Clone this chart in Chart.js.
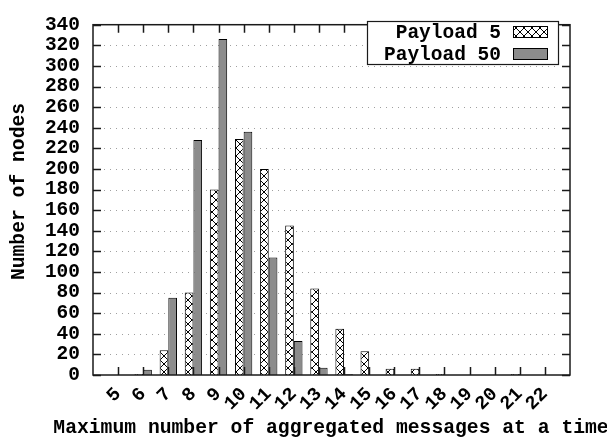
<!DOCTYPE html>
<html>
<head>
<meta charset="utf-8">
<script src="https://cdn.jsdelivr.net/npm/chart.js@4/dist/chart.umd.min.js"></script>
<style>
  html, body { margin: 0; padding: 0; background: #ffffff; }
  #wrap { width: 607px; height: 439px; position: relative; }
</style>
</head>
<body>
<div id="wrap"><canvas id="c" width="607" height="439"></canvas></div>
<script>
// ---- data ----
const categories = [5, 6, 7, 8, 9, 10, 11, 12, 13, 14, 15, 16, 17, 18, 19, 20, 21, 22];
const payload5  = [0, 1, 24, 80, 180, 229, 200, 145, 84, 45, 23, 6, 6, 1, 0, 0, 1, 0];
const payload50 = [0, 5, 75, 228, 326, 236, 114, 33, 7, 1, 0, 0, 0, 0, 0, 0, 0, 0];
const seriesNames = ['Payload 5', 'Payload 50'];
const yTicks = [0, 20, 40, 60, 80, 100, 120, 140, 160, 180, 200, 220, 240, 260, 280, 300, 320, 340];
const xTitle = 'Maximum number of aggregated messages at a time';
const yTitle = 'Number of nodes';

// x range runs one step beyond the first and last category (4 .. 23)
const labels = [String(categories[0] - 1), ...categories.map(String), String(categories[categories.length - 1] + 1)];
const pad = arr => [null, ...arr, null];

const FONT = '"Liberation Mono", "Courier New", monospace';
const TITLE_CSS = 'bold 19.7px ' + FONT;
const LEGEND_CSS = 'bold 19.5px ' + FONT;
const GRAY = '#8c8c8c';

function hatch() {
  const c = document.createElement('canvas');
  c.width = 8; c.height = 8;
  const g = c.getContext('2d');
  g.fillStyle = '#ffffff';
  g.fillRect(0, 0, 8, 8);
  g.strokeStyle = '#000000';
  g.lineWidth = 1;
  g.beginPath();
  g.moveTo(0, 0); g.lineTo(8, 8);
  g.moveTo(8, 0); g.lineTo(0, 8);
  g.stroke();
  return g.createPattern(c, 'repeat');
}
const hatchPattern = hatch();

const framePlugin = {
  id: 'frame',
  beforeDatasetsDraw(chart) {
    const ctx = chart.ctx, a = chart.chartArea, y = chart.scales.y;
    ctx.save();
    ctx.strokeStyle = '#a0a0a0';
    ctx.lineWidth = 1;
    ctx.setLineDash([1, 5]);
    yTicks.forEach(v => {
      if (v === yTicks[0] || v === yTicks[yTicks.length - 1]) return;
      const py = Math.round(y.getPixelForValue(v)) + 0.5;
      ctx.beginPath();
      ctx.moveTo(a.left + 11, py);
      ctx.lineTo(a.right - 10, py);
      ctx.stroke();
    });
    ctx.restore();
  },
  afterDatasetsDraw(chart) {
    const ctx = chart.ctx, a = chart.chartArea, x = chart.scales.x, y = chart.scales.y;
    ctx.save();
    ctx.strokeStyle = '#1a1a1a';
    ctx.lineWidth = 1.5;
    ctx.setLineDash([]);
    const T = 8;
    ctx.beginPath();
    yTicks.forEach(v => {
      const py = Math.round(y.getPixelForValue(v)) + 0.5;
      ctx.moveTo(a.left, py); ctx.lineTo(a.left + T, py);
      ctx.moveTo(a.right, py); ctx.lineTo(a.right - T, py);
    });
    categories.forEach(c => {
      const px = Math.round(x.getPixelForValue(labels.indexOf(String(c)))) + 0.5;
      ctx.moveTo(px, a.bottom); ctx.lineTo(px, a.bottom - T);
      ctx.moveTo(px, a.top); ctx.lineTo(px, a.top + T);
    });
    ctx.stroke();
    ctx.strokeRect(a.left, a.top, a.right - a.left, a.bottom - a.top);

    // axis titles (drawn here so they are not squeezed to the axis width)
    ctx.fillStyle = '#000000';
    ctx.font = TITLE_CSS;
    ctx.textAlign = 'center';
    ctx.textBaseline = 'middle';
    ctx.fillText(xTitle, 331, 428);
    ctx.save();
    ctx.translate(19, 191.5);
    ctx.rotate(-Math.PI / 2);
    ctx.fillText(yTitle, 0, 0);
    ctx.restore();

    // legend (box at top right, text right-aligned, swatch on the right)
    const lx0 = 367, ly0 = 21, lx1 = 558, ly1 = 64;
    ctx.fillStyle = '#ffffff';
    ctx.fillRect(lx0, ly0, lx1 - lx0, ly1 - ly0);
    ctx.lineWidth = 1.2;
    ctx.strokeStyle = '#1a1a1a';
    ctx.strokeRect(lx0 + 0.5, ly0 + 0.5, lx1 - lx0, ly1 - ly0);
    ctx.font = LEGEND_CSS;
    ctx.textAlign = 'right';
    ctx.textBaseline = 'middle';
    chart.data.datasets.forEach((ds, i) => {
      const cy = 32 + i * 22;
      ctx.fillStyle = '#000000';
      ctx.fillText(ds.label, 501, cy + 1);
      ctx.fillStyle = ds.backgroundColor;
      ctx.fillRect(513, cy - 5.5, 34, 11);
      ctx.lineWidth = 1;
      ctx.strokeStyle = '#000000';
      ctx.strokeRect(513.5, cy - 5.5, 34, 11);
    });
    ctx.restore();
  }
};

new Chart(document.getElementById('c'), {
  type: 'bar',
  data: {
    labels: labels,
    datasets: [
      { label: seriesNames[0], data: pad(payload5), backgroundColor: hatchPattern, borderColor: '#000000', borderWidth: 1, borderSkipped: 'start' },
      { label: seriesNames[1], data: pad(payload50), backgroundColor: GRAY, borderColor: '#000000', borderWidth: 1, borderSkipped: 'start' }
    ]
  },
  options: {
    responsive: false,
    animation: false,
    devicePixelRatio: 1,
    layout: { padding: { top: 12, right: 37, left: 0, bottom: 0 } },
    datasets: { bar: { categoryPercentage: 0.69, barPercentage: 1.0 } },
    plugins: { legend: { display: false }, tooltip: { enabled: false } },
    scales: {
      x: {
        type: 'category',
        offset: false,
        grid: { display: false, drawTicks: false },
        border: { display: false },
        ticks: {
          autoSkip: false,
          minRotation: 45, maxRotation: 45,
          padding: 8,
          color: '#000000',
          font: { family: FONT, size: 19, weight: 'bold' },
          callback: function(v, i) {
            const l = labels[i];
            return categories.includes(Number(l)) ? l : '';
          }
        },
        title: { display: false },
        afterFit: s => { s.height = 64; }
      },
      y: {
        min: yTicks[0], max: yTicks[yTicks.length - 1],
        grid: { display: false, drawTicks: false },
        border: { display: false },
        afterBuildTicks: s => { s.ticks = yTicks.map(v => ({ value: v })); },
        ticks: {
          autoSkip: false,
          padding: 13,
          color: '#000000',
          font: { family: FONT, size: 19.5, weight: 'bold' }
        },
        title: { display: false },
        afterFit: s => { s.width = 93; }
      }
    }
  },
  plugins: [framePlugin]
});
</script>
</body>
</html>
